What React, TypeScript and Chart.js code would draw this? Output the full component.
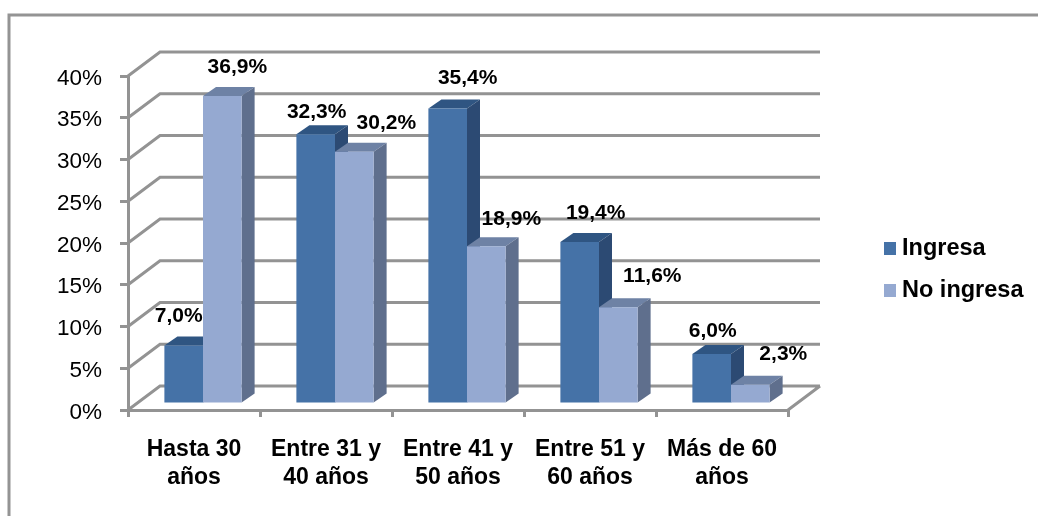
import React, { useEffect, useRef } from "react";
import { Chart, registerables } from "chart.js";

Chart.register(...registerables);

const categories = [["Hasta 30", "años"], ["Entre 31 y", "40 años"], ["Entre 41 y", "50 años"], ["Entre 51 y", "60 años"], ["Más de 60", "años"]];
const ingresa = [7.0, 32.3, 35.4, 19.4, 6.0];
const noIngresa = [36.9, 30.2, 18.9, 11.6, 2.3];
const seriesNames = ["Ingresa", "No ingresa"];

const labelNudges = [
  [[-5, -29], [15, -29]],
  [[1, -22], [32, -29]],
  [[20, -30], [25, -27]],
  [[16, -29], [34, -31]],
  [[1, -23], [33, -31]],
];

const GRID = "#939393";
const FACES = [
  { front: "#4572A7", top: "#2F5582", side: "#2C4A73" },
  { front: "#95A9D1", top: "#6E82A5", side: "#5F6F8D" },
];
const WALL = { dx: 32, dy: -24 };
const BAR_SHIFT = { dx: 9, dy: -6 };
const BAR_DEPTH = { dx: 13, dy: -9 };
const FONT = "'Liberation Sans', Arial, sans-serif";

const poly = (ctx: CanvasRenderingContext2D, pts: number[][], fill: string) => {
  ctx.beginPath();
  pts.forEach(([x, y], i) => (i ? ctx.lineTo(x, y) : ctx.moveTo(x, y)));
  ctx.closePath();
  ctx.fillStyle = fill;
  ctx.fill();
};

const pseudo3d = {
  id: "pseudo3d",
  beforeDraw(chart: any) {
    const { ctx, chartArea: a, scales } = chart;
    ctx.save();
    // outer frame, cropped by the picture on the right and bottom
    ctx.strokeStyle = "#949494";
    ctx.lineWidth = 3;
    ctx.beginPath();
    ctx.moveTo(9, chart.height);
    ctx.lineTo(9, 15);
    ctx.lineTo(chart.width, 15);
    ctx.stroke();
    // walls
    ctx.strokeStyle = GRID;
    ctx.lineWidth = 3;
    ctx.beginPath();
    scales.y.ticks.forEach((t: any) => {
      const y = scales.y.getPixelForValue(t.value);
      ctx.moveTo(a.left, y);
      ctx.lineTo(a.left + WALL.dx, y + WALL.dy);
      ctx.lineTo(a.right + WALL.dx, y + WALL.dy);
    });
    ctx.moveTo(a.right, a.bottom);
    ctx.lineTo(a.right + WALL.dx, a.bottom + WALL.dy);
    ctx.stroke();
    ctx.restore();
  },
  // Draw the series first to last, so the later one covers the side of the earlier one.
  beforeDatasetsDraw(chart: any) {
    const { ctx } = chart;
    chart.data.datasets.forEach((_: any, i: number) => {
      const meta = chart.getDatasetMeta(i);
      const c = FACES[i];
      ctx.save();
      ctx.translate(BAR_SHIFT.dx, BAR_SHIFT.dy);
      meta.data.forEach((bar: any) => {
        const p = bar.getProps(["x", "y", "base", "width"], true);
        const l = p.x - p.width / 2;
        const r = p.x + p.width / 2;
        const { dx, dy } = BAR_DEPTH;
        poly(ctx, [[l, p.y], [l + dx, p.y + dy], [r + dx, p.y + dy], [r, p.y]], c.top);
        poly(ctx, [[r, p.y], [r + dx, p.y + dy], [r + dx, p.base + dy], [r, p.base]], c.side);
      });
      meta.controller.draw();
      ctx.restore();
    });
    return false;
  },
  afterDraw(chart: any) {
    const { ctx } = chart;
    ctx.save();
    ctx.font = `bold 21px ${FONT}`;
    ctx.fillStyle = "#000";
    ctx.textAlign = "center";
    ctx.textBaseline = "middle";
    chart.data.datasets.forEach((ds: any, i: number) => {
      chart.getDatasetMeta(i).data.forEach((bar: any, j: number) => {
        const p = bar.getProps(["x", "y"], true);
        const [nx, ny] = labelNudges[j][i];
        const text = ds.data[j].toFixed(1).replace(".", ",") + "%";
        ctx.fillText(text, p.x + BAR_SHIFT.dx + nx, p.y + BAR_SHIFT.dy + ny);
      });
    });
    // legend
    ctx.textAlign = "left";
    ctx.font = `bold 23.5px ${FONT}`;
    chart.data.datasets.forEach((ds: any, i: number) => {
      const cy = 248.5 + i * 42;
      ctx.fillStyle = FACES[i].front;
      ctx.fillRect(884, cy - 6.5, 12, 13);
      ctx.fillStyle = "#000";
      ctx.fillText(ds.label, 902, cy);
    });
    ctx.restore();
  },
};

export default function App() {
  const ref = useRef<HTMLCanvasElement>(null);
  useEffect(() => {
    const chart = new Chart(ref.current!, {
      type: "bar",
      data: {
        labels: categories,
        datasets: [
          { label: seriesNames[0], data: ingresa, backgroundColor: FACES[0].front },
          { label: seriesNames[1], data: noIngresa, backgroundColor: FACES[1].front },
        ],
      } as any,
      options: {
        animation: false,
        responsive: false,
        layout: { padding: { left: 0, right: 250, top: 76, bottom: 0 } },
        plugins: { legend: { display: false }, tooltip: { enabled: false } },
        datasets: { bar: { categoryPercentage: 0.585, barPercentage: 1, borderWidth: 0 } },
        scales: {
          x: {
            afterFit: (s: any) => { s.height = 106; },
            grid: { drawOnChartArea: false, drawTicks: true, tickLength: 7, color: GRID, lineWidth: 3, offset: true },
            border: { color: GRID, width: 3 },
            ticks: { color: "#000", font: { family: FONT, size: 23, weight: "bold", lineHeight: 1.2 }, maxRotation: 0, minRotation: 0, padding: 19, autoSkip: false },
          },
          y: {
            min: 0,
            max: 40,
            afterFit: (s: any) => { s.width = 128; },
            grid: { drawOnChartArea: false, drawTicks: true, tickLength: 8, color: GRID, lineWidth: 3 },
            border: { color: GRID, width: 3 },
            // The empty first line with a small line height sets each label just below its tick.
            ticks: { stepSize: 5, color: "#000", font: { family: FONT, size: 22.5, lineHeight: "5px" }, padding: 18, callback: (v: any) => ["", `${v}%`] },
          },
        },
      } as any,
      plugins: [pseudo3d],
    });
    return () => chart.destroy();
  }, []);
  return (
    <div style={{ position: "absolute", left: 0, top: 0, width: 1038, height: 516, background: "#fff" }}>
      <canvas ref={ref} width={1038} height={516} style={{ display: "block" }} />
    </div>
  );
}
